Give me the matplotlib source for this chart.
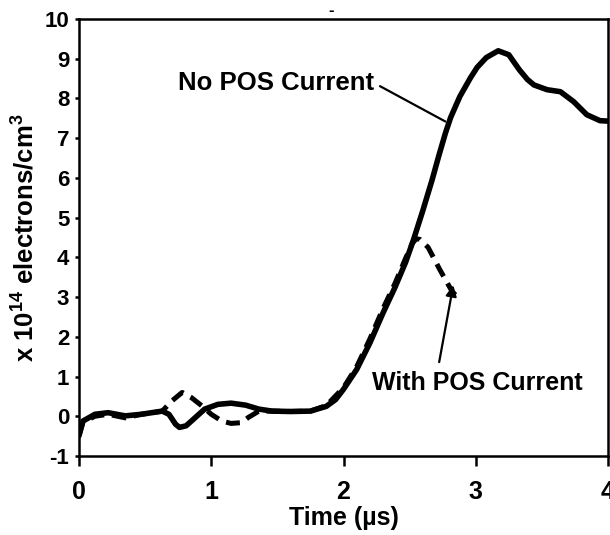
import matplotlib
matplotlib.use("Agg")
import matplotlib.pyplot as plt

# ---- data ----
t_no_pos = [0.00, 0.03, 0.12, 0.22, 0.35, 0.47, 0.63, 0.68, 0.73, 0.76, 0.81, 0.88,
            0.95, 1.05, 1.15, 1.26, 1.36, 1.46, 1.60, 1.75, 1.87, 1.94, 2.00, 2.10, 2.20,
            2.30, 2.39, 2.47, 2.53, 2.60, 2.67, 2.72, 2.77, 2.81, 2.88, 2.96, 3.01, 3.08,
            3.17, 3.25, 3.33, 3.39, 3.44, 3.54, 3.64, 3.74, 3.84, 3.94, 4.00]
n_no_pos = [-0.49, -0.12, 0.05, 0.09, 0.01, 0.05, 0.13, 0.05, -0.20, -0.28, -0.24, -0.03,
            0.18, 0.30, 0.33, 0.28, 0.18, 0.13, 0.12, 0.13, 0.25, 0.42, 0.68, 1.18, 1.85,
            2.61, 3.25, 3.88, 4.45, 5.18, 5.95, 6.55, 7.12, 7.52, 8.05, 8.52, 8.78, 9.03,
            9.20, 9.10, 8.72, 8.48, 8.34, 8.22, 8.17, 7.92, 7.59, 7.44, 7.43]

t_with_pos = [0.00, 0.03, 0.12, 0.22, 0.35, 0.47, 0.63, 0.70, 0.78, 0.85, 0.93, 1.00,
              1.08, 1.15, 1.23, 1.28, 1.36, 1.46, 1.60, 1.75, 1.87, 2.00, 2.10, 2.20,
              2.30, 2.39, 2.47, 2.52, 2.55, 2.58, 2.64, 2.73, 2.82, 2.86]
n_with_pos = [-0.47, -0.15, 0.00, 0.05, -0.04, 0.05, 0.13, 0.38, 0.60, 0.47, 0.26, 0.05,
              -0.12, -0.18, -0.16, -0.03, 0.13, 0.13, 0.12, 0.13, 0.27, 0.72, 1.25, 1.95,
              2.72, 3.35, 3.98, 4.35, 4.47, 4.45, 4.25, 3.68, 3.15, 3.00]

x_ticks = [0, 1, 2, 3, 4]
y_ticks = [-1, 0, 1, 2, 3, 4, 5, 6, 7, 8, 9, 10]

label_no = "No POS Current"
label_with = "With POS Current"

# ---- figure ----
plt.rcParams['font.family'] = ['Liberation Sans', 'DejaVu Sans']
plt.rcParams['font.weight'] = 'bold'
plt.rcParams['mathtext.default'] = 'regular'

fig = plt.figure(figsize=(6.10, 5.35), dpi=100)
ax = fig.add_axes([79/610, 1 - 456/535, (608 - 79)/610, (456 - 19)/535])

ax.plot(t_no_pos, n_no_pos, color='black', lw=4.0, solid_capstyle='round',
        solid_joinstyle='round')
ax.plot(t_with_pos, n_with_pos, color='black', lw=3.6, dashes=(2.8, 1.6))

ax.set_xlim(0, 4)
ax.set_ylim(-1, 10)
ax.set_xticks(x_ticks)
ax.set_yticks(y_ticks)
ax.set_xticklabels([str(v) for v in x_ticks], fontsize=18, fontweight='bold')
ax.set_yticklabels([str(v) for v in y_ticks], fontsize=16, fontweight='bold')
ax.tick_params(axis='x', direction='out', length=7, width=1.8, pad=10)
ax.tick_params(axis='y', direction='out', length=3, width=1.8, pad=4)
for s in ax.spines.values():
    s.set_linewidth(1.8)

ax.set_xlabel("Time (µs)", fontsize=18, fontweight='bold', labelpad=1.5)
ax.set_ylabel(r"x 10$^{14}$ electrons/cm$^{3}$", fontsize=18.5, fontweight='bold',
              labelpad=4)

# annotations
ax.annotate(label_no, xy=(2.77, 7.42), xytext=(1.49, 8.4),
            ha='center', va='center', fontsize=18.5, fontweight='bold',
            arrowprops=dict(arrowstyle='-', lw=1.6, color='black',
                            shrinkA=0, shrinkB=0, relpos=(1.03, 0.35)))
ax.annotate(label_with, xy=(2.83, 3.3), xytext=(3.01, 0.85),
            ha='center', va='center', fontsize=18, fontweight='bold',
            arrowprops=dict(arrowstyle='-|>', lw=1.6, color='black',
                            mutation_scale=16, shrinkA=0, shrinkB=0,
                            relpos=(0.32, 1.35)))

fig.text(331/610, 1 - 10/535, "-", fontsize=12, fontweight='bold',
         ha='center', va='center')

fig.savefig("out.png", dpi=100)
